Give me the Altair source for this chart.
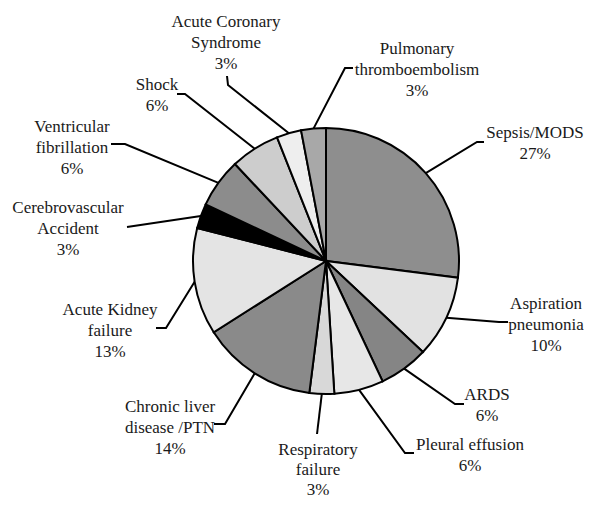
import math
import altair as alt
import pandas as pd

# ---- data ----
causes = ["Sepsis/MODS", "Aspiration pneumonia", "ARDS", "Pleural effusion",
          "Respiratory failure", "Chronic liver disease /PTN", "Acute Kidney failure",
          "Cerebrovascular Accident", "Ventricular fibrillation", "Shock",
          "Acute Coronary Syndrome", "Pulmonary thromboembolism"]
percent = [27, 10, 6, 6, 3, 14, 13, 3, 6, 6, 3, 3]
label_lines = [["Sepsis/MODS", "27%"],
               ["Aspiration", "pneumonia", "10%"],
               ["ARDS", "6%"],
               ["Pleural effusion", "6%"],
               ["Respiratory", "failure", "3%"],
               ["Chronic liver", "disease /PTN", "14%"],
               ["Acute Kidney", "failure", "13%"],
               ["Cerebrovascular", "Accident", "3%"],
               ["Ventricular", "fibrillation", "6%"],
               ["Shock", "6%"],
               ["Acute Coronary", "Syndrome", "3%"],
               ["Pulmonary", "thromboembolism", "3%"]]

# ---- style / layout ----
fills = ["#8e8e8e", "#e2e2e2", "#858585", "#e7e7e7", "#d8d8d8", "#8a8a8a",
         "#e4e4e4", "#000000", "#8c8c8c", "#cdcdcd", "#eeeeee", "#a8a8a8"]
W, H = 576, 492
OFF = 8
CX, CY, R = 326 - OFF, 261 - OFF, 133
FONT = "Liberation Serif, Times New Roman, DejaVu Serif, serif"
# label block: center x, first line y, line spacing (reference pixels)
label_pos = [(535, 133, 21), (546, 304, 21), (487, 395, 21), (470, 445, 21),
             (318, 450, 20), (170, 407, 21), (110, 310, 21), (68, 208, 21),
             (72, 127, 21), (157, 85, 21), (226, 22, 21), (417, 49, 21)]
# leader elbows after the pie-edge point (reference pixels)
leader_pts = [[(477, 142), (484, 142)],
              [(499, 322), (508, 322)],
              [(455, 404), (464, 404)],
              [(405, 453), (414, 453)],
              [(317, 434)],
              [(225, 424), (214, 424)],
              [(166, 328), (156, 328)],
              [(127, 227)],
              [(125, 144), (111, 144)],
              [(185, 94), (177, 94)],
              [(228, 85), (227, 76)],
              [(345, 68), (353, 68)]]

pie_df = pd.DataFrame({"cause": causes, "pct": percent, "idx": list(range(len(causes)))})

# leader lines from slice mid-angle on pie edge
rows = []
total = sum(percent)
cum = 0
for i, (c, p) in enumerate(zip(causes, percent)):
    mid = (cum + p / 2) / total * 2 * math.pi
    cum += p
    ex = CX + R * math.sin(mid)
    ey = CY - R * math.cos(mid)
    pts = [(ex, ey)] + [(x - OFF, y - OFF) for x, y in leader_pts[i]]
    for k, (x, y) in enumerate(pts):
        rows.append({"cause": c, "k": k, "x": x, "y": y})
lead_df = pd.DataFrame(rows)

trows = []
for i, lines in enumerate(label_lines):
    lx, ly, lh = label_pos[i]
    for j, t in enumerate(lines):
        trows.append({"t": t, "x": lx - OFF, "y": ly - OFF + j * lh})
text_df = pd.DataFrame(trows)

xs = alt.Scale(domain=[0, W], nice=False, zero=False)
ys = alt.Scale(domain=[H, 0], nice=False, zero=False)

pie = alt.Chart(pie_df).mark_arc(outerRadius=R, stroke="black", strokeWidth=2).encode(
    theta=alt.Theta("pct:Q", stack=True),
    order=alt.Order("idx:Q"),
    color=alt.Color("cause:N", scale=alt.Scale(domain=causes, range=fills), legend=None),
    x=alt.value(CX), y=alt.value(CY),
)

leaders = alt.Chart(lead_df).mark_line(color="black", strokeWidth=2, strokeJoin="miter").encode(
    x=alt.X("x:Q", scale=xs, axis=None),
    y=alt.Y("y:Q", scale=ys, axis=None),
    detail="cause:N",
    order="k:Q",
)

labels = alt.Chart(text_df).mark_text(font=FONT, fontSize=17, color="#1a1a1a",
                                      align="center", baseline="middle").encode(
    x=alt.X("x:Q", scale=xs, axis=None),
    y=alt.Y("y:Q", scale=ys, axis=None),
    text="t:N",
)

chart = alt.layer(leaders, pie, labels).properties(
    width=W, height=H, padding=0, autosize=alt.AutoSizeParams(type="none"),
    background="white"
).configure_view(stroke=None)

chart.save("out.html", embed_options={"renderer": "svg", "actions": False})
